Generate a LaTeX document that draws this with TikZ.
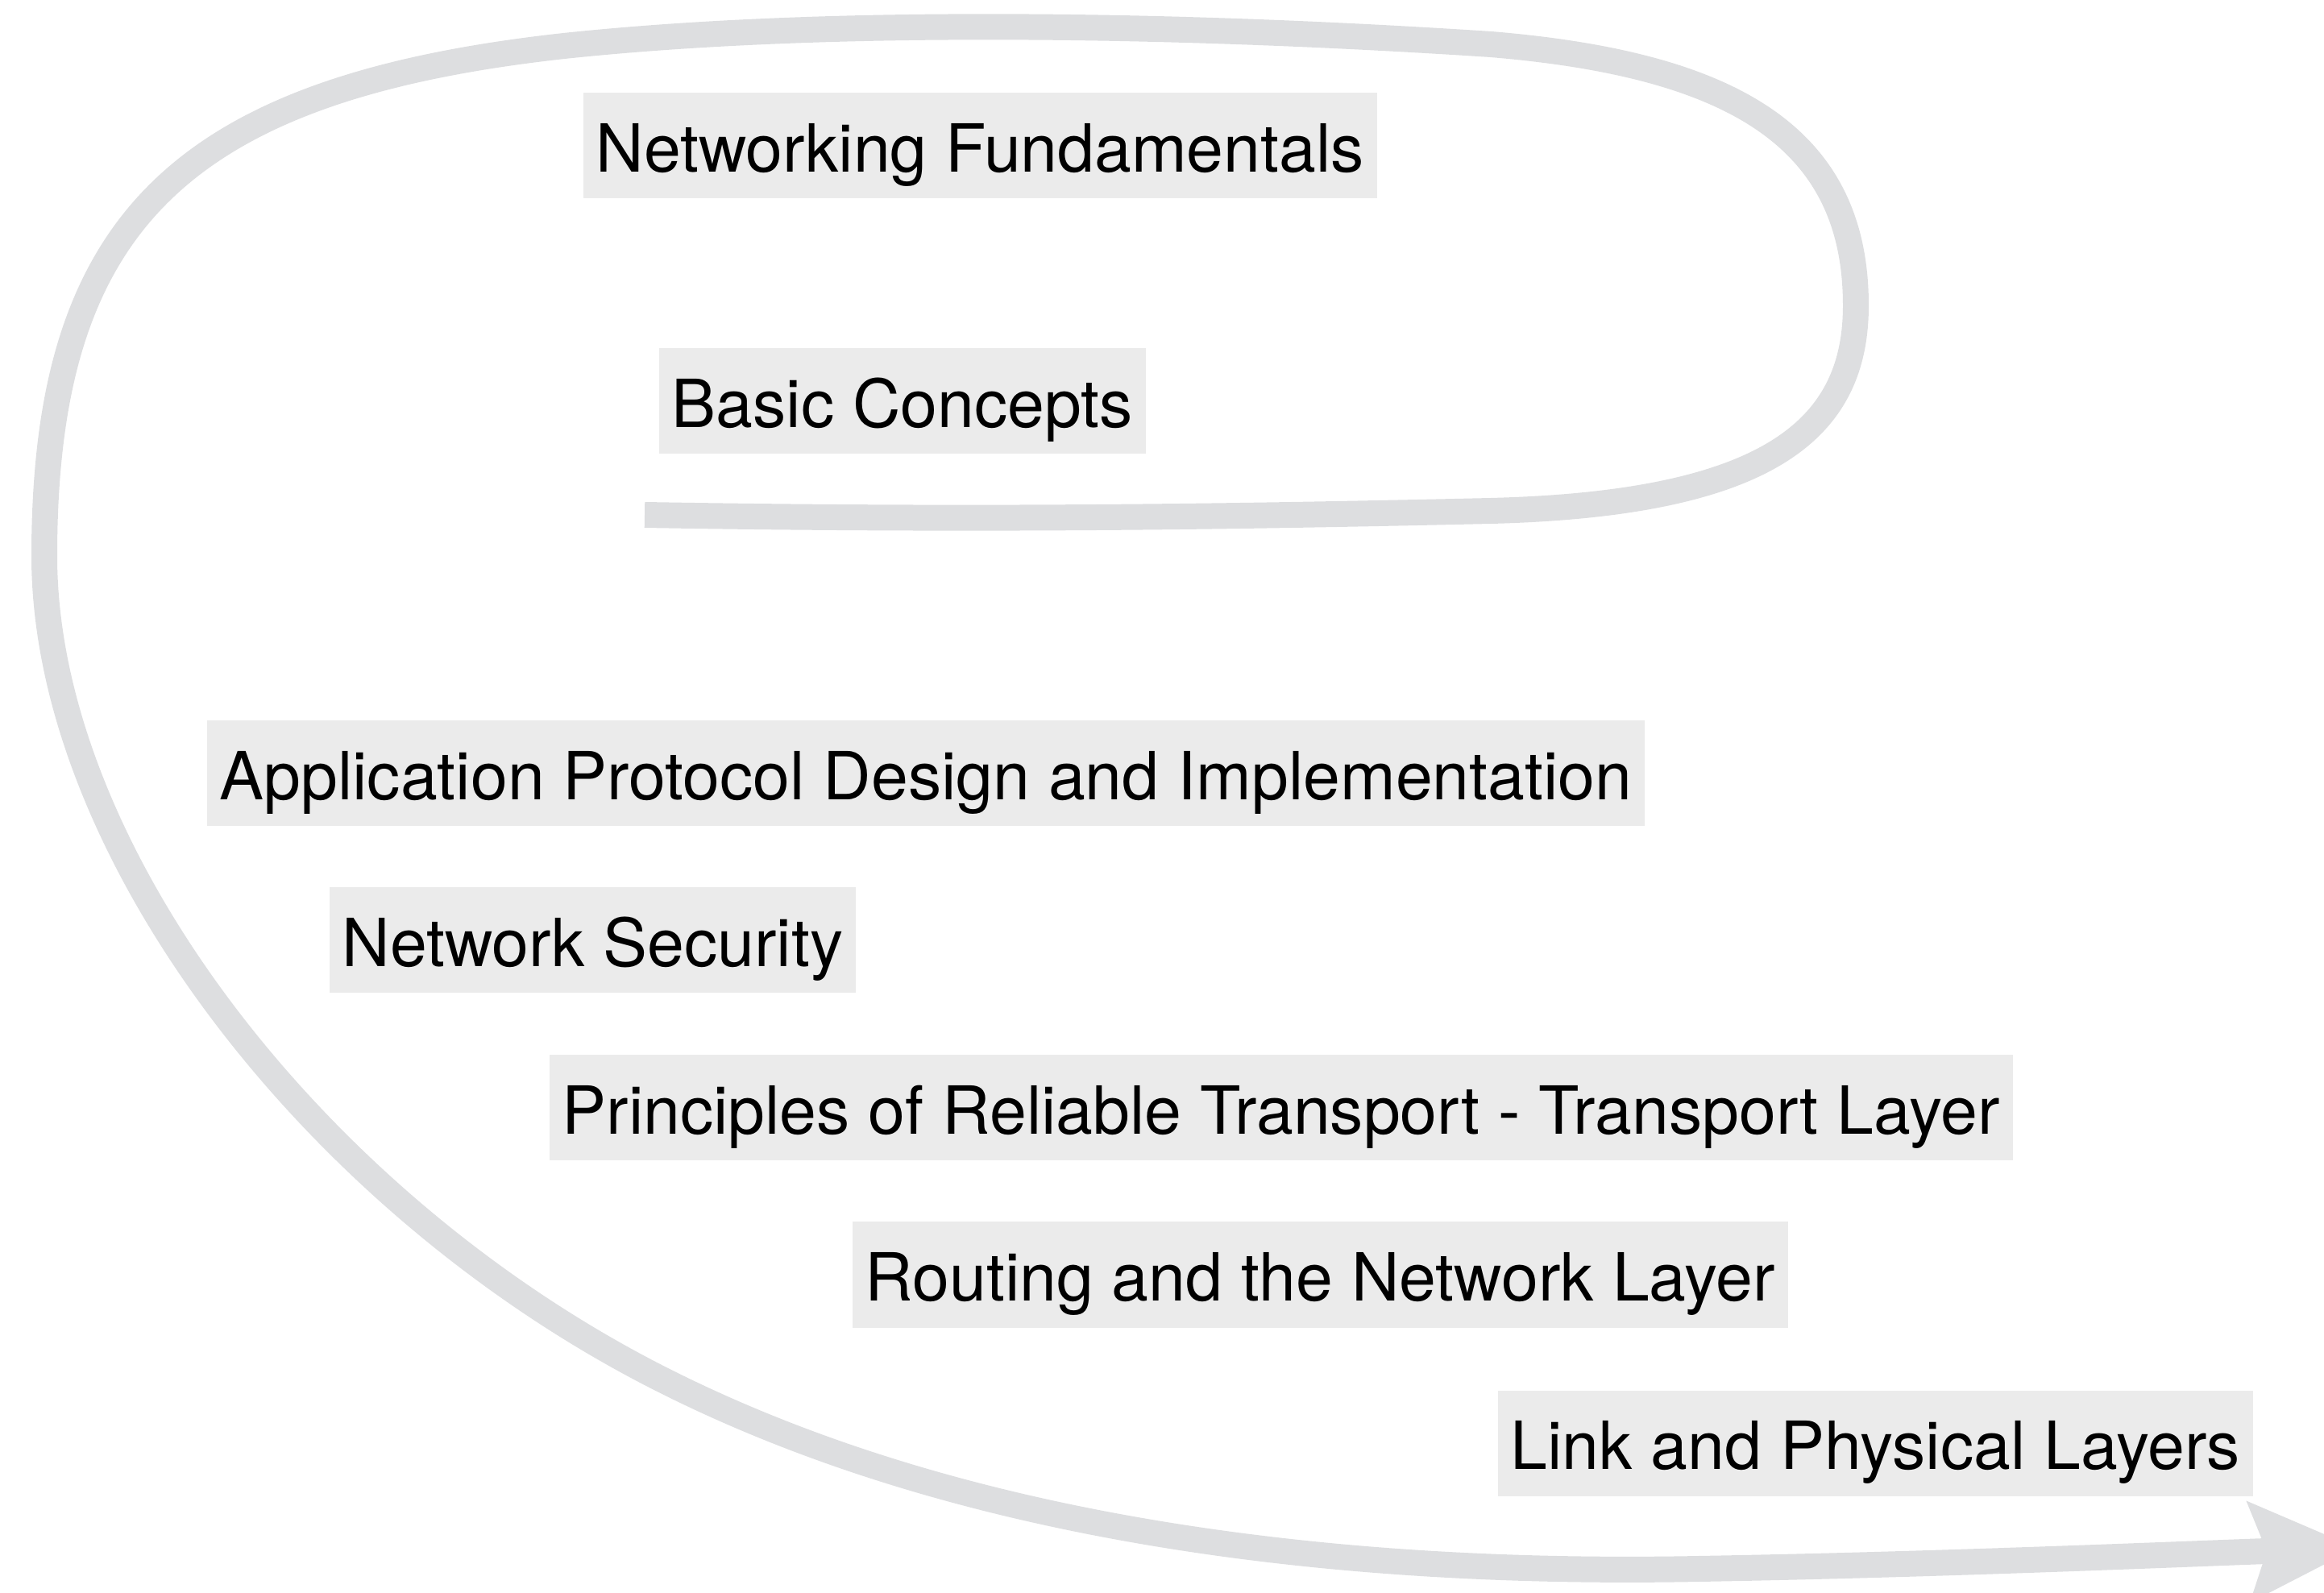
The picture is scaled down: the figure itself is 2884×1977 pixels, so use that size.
\documentclass[tikz,border=0pt]{standalone}
\usepackage{fontspec}
\setmainfont{TeX Gyre Heros}
\usetikzlibrary{arrows.meta}
\definecolor{linegray}{HTML}{DDDEE0}
\definecolor{boxgray}{HTML}{EBEBEB}
\tikzset{
  topic/.style={fill=boxgray, anchor=west, inner xsep=4pt, inner ysep=0pt,
    text height=24.5pt, text depth=8.25pt,
    font=\fontsize{20.6pt}{24pt}\selectfont},
  flow/.style={draw=linegray, line width=8pt,
    -{Stealth[length=33pt, width=30pt, inset=5pt, fill=linegray]}}
}
\begin{document}
\begin{tikzpicture}[x=0.25pt, y=-0.25pt]
\useasboundingbox (0,0) rectangle (2884,1977);
\coordinate (s) at (800,639);
\coordinate (e) at (2925,1921);
\draw[flow] (s)
  .. controls (1200,646) and (1500,642) .. (1850,634)
  .. controls (2200,625) and (2303,530) .. (2303,379)
  .. controls (2303,170) and (2150,80) .. (1850,55)
  .. controls (1500,32) and (1050,20) .. (700,57)
  .. controls (220,110) and (55,280) .. (55,690)
  .. controls (55,1050) and (380,1480) .. (800,1701)
  .. controls (1200,1911) and (1700,1955) .. (2108,1947)
  .. controls (2400,1942) and (2700,1929) .. (e);
\node[topic] (n1) at (723,181) {Networking Fundamentals};
\node[topic] (n2) at (817,498) {Basic Concepts};
\node[topic] (n3) at (256,960) {Application Protocol Design and Implementation};
\node[topic] (n4) at (408,1167) {Network Security};
\node[topic] (n5) at (681,1375) {Principles of Reliable Transport - Transport Layer};
\node[topic] (n6) at (1057,1582) {Routing and the Network Layer};
\node[topic] (n7) at (1858,1791) {Link and Physical Layers};
\end{tikzpicture}
\end{document}
